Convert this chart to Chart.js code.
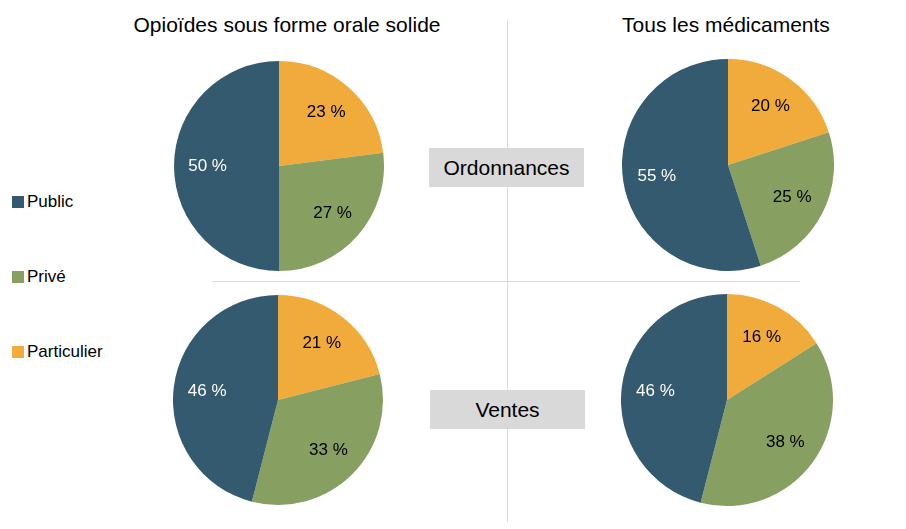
<!DOCTYPE html>
<html>
<head>
<meta charset="utf-8">
<script src="https://cdn.jsdelivr.net/npm/chart.js@4/dist/chart.umd.min.js"></script>
<style>
  body { margin: 0; background: #fff; font-family: "Liberation Sans", Arial, sans-serif; }
  #wrap { position: relative; width: 906px; height: 529px; overflow: hidden; }
  .pie { position: absolute; }
  .txt { position: absolute; transform: translate(-50%, -50%); white-space: nowrap; color: #000; line-height: 1; }
  .title { font-size: 21px; }
  .box { position: absolute; background: #d9d9d9; font-size: 21px; display: flex; align-items: center; justify-content: center; }
  .leg { position: absolute; left: 12px; font-size: 17px; display: flex; align-items: center; transform: translateY(-50%); }
  .leg span { display: inline-block; width: 12px; height: 12px; margin-right: 3px; }
  .hline { position: absolute; background: #d9d9d9; }
</style>
</head>
<body>
<div id="wrap">
  <div class="hline" style="left:507px; top:20px; width:1px; height:502px;"></div>
  <div class="hline" style="left:212px; top:281px; width:588px; height:1px;"></div>

  <div class="txt title" style="left:287px; top:24px;">Opioïdes sous forme orale solide</div>
  <div class="txt title" style="left:726px; top:24px;">Tous les médicaments</div>

  <div class="box" style="left:429px; top:148px; width:155px; height:39px;">Ordonnances</div>
  <div class="box" style="left:430px; top:390px; width:155px; height:39px;">Ventes</div>

  <div id="legend"></div>

  <canvas class="pie" id="pie1" width="210" height="210" style="left:174px; top:61px;"></canvas>
  <canvas class="pie" id="pie2" width="212" height="212" style="left:622px; top:59px;"></canvas>
  <canvas class="pie" id="pie3" width="210" height="210" style="left:173px; top:295px;"></canvas>
  <canvas class="pie" id="pie4" width="212" height="212" style="left:621px; top:294px;"></canvas>
</div>
<script>
// Slices go clockwise from 12 o'clock: Particulier, Privé, Public
const categories = ['Particulier', 'Privé', 'Public'];
const colors = ['#f0ab3b', '#87a062', '#345a70'];
const labelColors = ['#000', '#000', '#fff'];

const opioidesOrdonnances = [23, 27, 50];
const medicamentsOrdonnances = [20, 25, 55];
const opioidesVentes = [21, 33, 46];
const medicamentsVentes = [16, 38, 46];

// Legend (Public, Privé, Particulier from top)
const legendOrder = [2, 1, 0];
const legendY = [202, 277, 352];
const legendEl = document.getElementById('legend');
legendOrder.forEach(function(idx, i) {
    const d = document.createElement('div');
    d.className = 'leg';
    d.style.top = legendY[i] + 'px';
    d.innerHTML = '<span style="background:' + colors[idx] + '"></span>' + categories[idx];
    document.getElementById('wrap').appendChild(d);
});

// Draw "xx %" inside each slice
const sliceLabels = {
    id: 'sliceLabels',
    afterDatasetsDraw: function(chart) {
        const ctx = chart.ctx;
        const meta = chart.getDatasetMeta(0);
        const values = chart.data.datasets[0].data;
        ctx.save();
        ctx.font = '17px "Liberation Sans", Arial, sans-serif';
        ctx.textAlign = 'center';
        ctx.textBaseline = 'middle';
        meta.data.forEach(function(arc, i) {
            const mid = (arc.startAngle + arc.endAngle) / 2;
            const r = arc.outerRadius * 0.68;
            ctx.fillStyle = labelColors[i];
            ctx.fillText(values[i] + ' %', arc.x + Math.cos(mid) * r, arc.y + Math.sin(mid) * r);
        });
        ctx.restore();
    }
};

function initPie(id, values) {
    return new Chart(document.getElementById(id), {
        type: 'pie',
        data: {
            labels: categories,
            datasets: [{
                data: values,
                backgroundColor: colors,
                borderWidth: 0
            }]
        },
        options: {
            responsive: false,
            animation: false,
            layout: { padding: 0 },
            plugins: {
                legend: { display: false },
                tooltip: { enabled: false }
            }
        },
        plugins: [sliceLabels]
    });
}

initPie('pie1', opioidesOrdonnances);
initPie('pie2', medicamentsOrdonnances);
initPie('pie3', opioidesVentes);
initPie('pie4', medicamentsVentes);
</script>
</body>
</html>
